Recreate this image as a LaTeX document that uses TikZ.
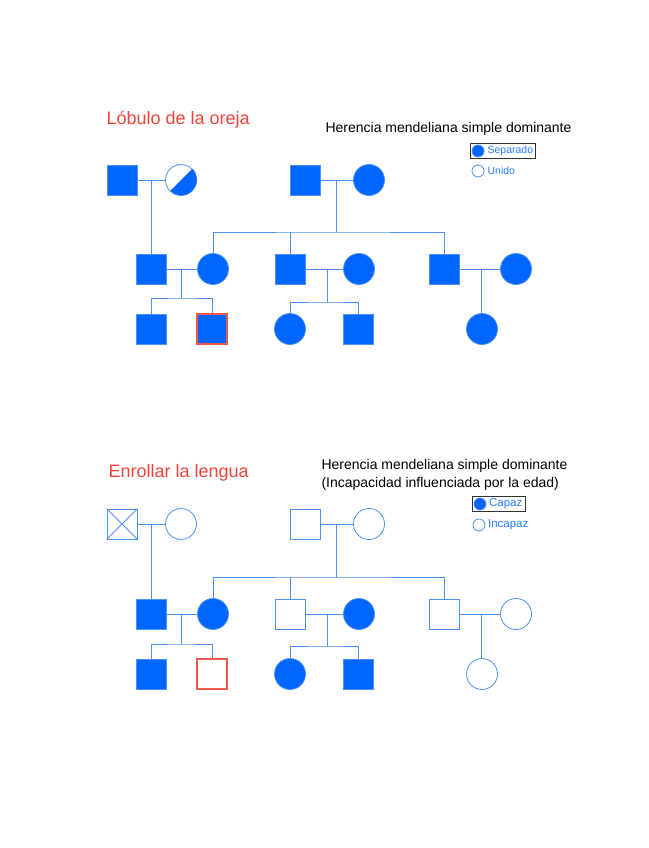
\documentclass[tikz,border=0pt]{standalone}
\usepackage{fontspec}
\setmainfont{Liberation Sans}
\usetikzlibrary{positioning, fit, calc}
\definecolor{pedfill}{HTML}{0066FF}
\definecolor{pedline}{HTML}{4A90F5}
\definecolor{titlered}{HTML}{F0443A}
\definecolor{boxred}{HTML}{F0584C}

\begin{document}
\begin{tikzpicture}[
    x=1pt, y=1pt,
    male/.style={rectangle, minimum size=30pt, inner sep=0pt,
                 draw=pedline, line width=0.8pt},
    female/.style={circle, minimum size=31pt, inner sep=0pt,
                   draw=pedline, line width=0.8pt},
    aff/.style={fill=pedfill},
    redline/.style={draw=boxred, line width=1.1pt},
    link/.style={draw=pedline, line width=0.9pt},
    keydot/.style={circle, minimum size=12pt, inner sep=0pt,
                   draw=pedline, line width=0.8pt},
    keytxt/.style={text=pedfill!85, inner sep=1pt},
    keybox/.style={draw=black!80, line width=0.9pt, inner sep=1.5pt},
    title/.style={anchor=west, text=titlered, font=\fontsize{18}{20}\selectfont},
    head/.style={anchor=west, font=\fontsize{14}{18}\selectfont, align=left}
  ]
  \useasboundingbox (0,0) rectangle (648,-848);

  % ---------- Lobulo de la oreja ----------
  \node[title] (ttl1) at (103,-120) {Lóbulo de la oreja};
  \node[head]  (hd1)  at (322,-129) {Herencia mendeliana simple dominante};
  \node[keydot, aff] (kd1) at (478,-151) {};
  \node[keytxt, right=2pt of kd1] (kt1) {\fontsize{10.5}{12}\selectfont Separado};
  \node[keybox, fit=(kd1)(kt1)] (kb1) {};
  \node[keydot] (kd2) at (478,-171) {};
  \node[keytxt, right=2pt of kd2] (kt2) {\fontsize{10.5}{12}\selectfont Unido};

  \node[male, aff]   (tam) at (122,-180) {};
  \node[female]      (taf) at (181,-180) {};
  \fill[pedfill] (taf.45) arc[start angle=45, end angle=-135, radius=15.5] -- cycle;
  \node[male, aff]   (tbm) at (305,-180) {};
  \node[female, aff] (tbf) at (369,-180) {};

  \node[male, aff]   (tcm) at (151,-269) {};
  \node[female, aff] (tcf) at (213,-269) {};
  \node[male, aff]   (tdm) at (290,-269) {};
  \node[female, aff] (tdf) at (359,-269) {};
  \node[male, aff]   (tem) at (444,-269) {};
  \node[female, aff] (tef) at (516,-269) {};

  \node[male, aff]   (tk1) at (151,-329) {};
  \node[male, aff, redline] (tk2) at (212,-329) {};
  \node[female, aff] (tk3) at (290,-329) {};
  \node[male, aff]   (tk4) at (358,-329) {};
  \node[female, aff] (tk5) at (482,-329) {};

  \foreach \a/\b in {tam/taf, tbm/tbf, tcm/tcf, tdm/tdf, tem/tef}
    \draw[link] (\a) -- (\b);

  \coordinate (ta) at ($(tam.east)!0.5!(taf.west)$);
  \coordinate (tb) at ($(tbm.east)!0.5!(tbf.west)$);
  \coordinate (tc) at ($(tcm.east)!0.5!(tcf.west)$);
  \coordinate (td) at ($(tdm.east)!0.58!(tdf.west)$);
  \coordinate (te) at ($(tem.east)!0.55!(tef.west)$);
  \coordinate (tsib) at (tb |- 0,-232);
  \coordinate (tcs) at ($(tc)+(0,-29)$);
  \coordinate (tds) at ($(td)+(0,-33)$);

  \draw[link] (ta) -- (ta |- tcm.north);
  \draw[link] (tb) -- (tsib);
  \draw[link] (tcf.north) |- (tsib) -| (tem.north);
  \draw[link] (tdm.north) -- (tdm.north |- tsib);
  \draw[link] (tc) -- (tcs);
  \draw[link] (tk1.north) |- (tcs) -| (tk2.north);
  \draw[link] (td) -- (tds);
  \draw[link] (tk3.north) |- (tds) -| (tk4.north);
  \draw[link] (te) -- (te |- tk5.north);

  % ---------- Enrollar la lengua ----------
  \node[title] (ttl2) at (105,-473) {Enrollar la lengua};
  \node[head]  (hd2)  at (318,-475)
    {Herencia mendeliana simple dominante\\(Incapacidad influenciada por la edad)};
  \node[keydot, aff] (kd3) at (480,-504) {};
  \node[keytxt, right=1.5pt of kd3] (kt3) {\fontsize{11.5}{13}\selectfont Capaz};
  \node[keybox, fit=(kd3)(kt3)] (kb2) {};
  \node[keydot] (kd4) at (479,-525) {};
  \node[keytxt, right=1.5pt of kd4] (kt4) {\fontsize{11.5}{13}\selectfont Incapaz};

  \node[male]        (bam) at (122,-524) {};
  \draw[link] (bam.north west) -- (bam.south east)
              (bam.north east) -- (bam.south west);
  \node[female]      (baf) at (181,-524) {};
  \node[male]        (bbm) at (305,-524) {};
  \node[female]      (bbf) at (369,-524) {};

  \node[male, aff]   (bcm) at (151,-614) {};
  \node[female, aff] (bcf) at (213,-614) {};
  \node[male]        (bdm) at (290,-614) {};
  \node[female, aff] (bdf) at (359,-614) {};
  \node[male]        (bem) at (444,-614) {};
  \node[female]      (bef) at (516,-614) {};

  \node[male, aff]   (bk1) at (151,-674) {};
  \node[male, redline] (bk2) at (212,-674) {};
  \node[female, aff] (bk3) at (290,-674) {};
  \node[male, aff]   (bk4) at (358,-674) {};
  \node[female]      (bk5) at (482,-674) {};

  \foreach \a/\b in {bam/baf, bbm/bbf, bcm/bcf, bdm/bdf, bem/bef}
    \draw[link] (\a) -- (\b);

  \coordinate (ba) at ($(bam.east)!0.5!(baf.west)$);
  \coordinate (bb) at ($(bbm.east)!0.5!(bbf.west)$);
  \coordinate (bc) at ($(bcm.east)!0.5!(bcf.west)$);
  \coordinate (bd) at ($(bdm.east)!0.58!(bdf.west)$);
  \coordinate (be) at ($(bem.east)!0.55!(bef.west)$);
  \coordinate (bsib) at (bb |- 0,-577);
  \coordinate (bcs) at ($(bc)+(0,-30)$);
  \coordinate (bds) at ($(bd)+(0,-32)$);

  \draw[link] (ba) -- (ba |- bcm.north);
  \draw[link] (bb) -- (bsib);
  \draw[link] (bcf.north) |- (bsib) -| (bem.north);
  \draw[link] (bdm.north) -- (bdm.north |- bsib);
  \draw[link] (bc) -- (bcs);
  \draw[link] (bk1.north) |- (bcs) -| (bk2.north);
  \draw[link] (bd) -- (bds);
  \draw[link] (bk3.north) |- (bds) -| (bk4.north);
  \draw[link] (be) -- (be |- bk5.north);

\end{tikzpicture}
\end{document}
